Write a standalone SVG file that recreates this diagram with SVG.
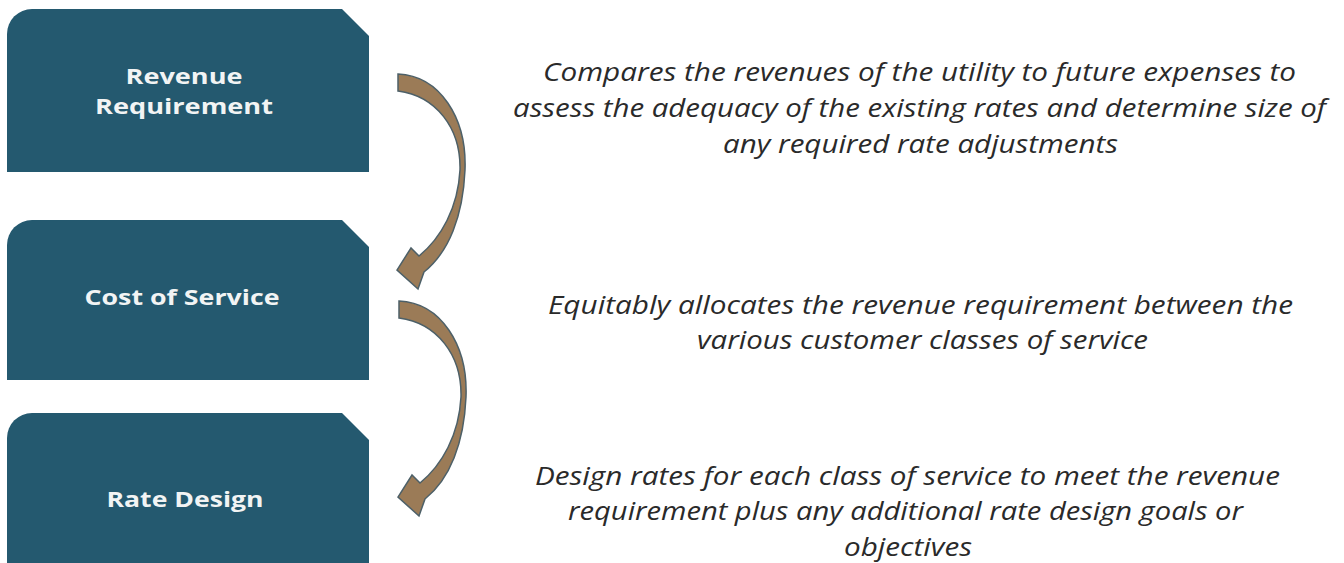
<svg xmlns="http://www.w3.org/2000/svg" width="1344" height="563" viewBox="0 0 1344 563">
  <style>
    .box { fill: #24596f; }
    .label { font-family: "Open Sans", "Liberation Sans", sans-serif; font-weight: bold; font-size: 21px; fill: #f2f4f4; text-anchor: middle; }
    .desc { font-family: "Open Sans", "Liberation Sans", sans-serif; font-style: italic; font-size: 26px; fill: #2a2a2a; text-anchor: middle; }
    .arrow { fill: #9b7b57; stroke: #4d6068; stroke-width: 1.5; stroke-linejoin: miter; }
  </style>
  <defs>
    <!-- curved arrow sweeping out to the right and back, head pointing left -->
    <path id="curved-arrow" d="M398,74 C440,76 467,118 465,170 C463,216 449,252 424,272 L418,289 L397,270 L411,248 L419,256 C441,238 458,208 460,170 C461,128 436,96 398,91 Z"/>
  </defs>
  <rect width="1344" height="563" fill="#ffffff"/>

  <g id="node-revenue-requirement">
    <path class="box" d="M7,172 V34 A25,25 0 0 1 32,9 H342 L369,36 V172 Z"/>
    <text class="label" x="184" y="84" textLength="117" lengthAdjust="spacingAndGlyphs">Revenue</text>
    <text class="label" x="184" y="114" textLength="178" lengthAdjust="spacingAndGlyphs">Requirement</text>
  </g>

  <g id="node-cost-of-service">
    <path class="box" d="M7,380 V245 A25,25 0 0 1 32,220 H342 L369,247 V380 Z"/>
    <text class="label" x="182" y="305" textLength="195" lengthAdjust="spacingAndGlyphs">Cost of Service</text>
  </g>

  <g id="node-rate-design">
    <path class="box" d="M7,563 V438 A25,25 0 0 1 32,413 H342 L369,440 V563 Z"/>
    <text class="label" x="185" y="507" textLength="157" lengthAdjust="spacingAndGlyphs">Rate Design</text>
  </g>

  <g id="connectors">
    <use href="#curved-arrow" class="arrow"/>
    <use href="#curved-arrow" class="arrow" transform="translate(1,227)"/>
  </g>

  <g id="desc-revenue-requirement">
    <text class="desc" x="919.5" y="81" textLength="753" lengthAdjust="spacingAndGlyphs">Compares the revenues of the utility to future expenses to</text>
    <text class="desc" x="919.5" y="117" textLength="813" lengthAdjust="spacingAndGlyphs">assess the adequacy of the existing rates and determine size of</text>
    <text class="desc" x="920.5" y="153" textLength="395" lengthAdjust="spacingAndGlyphs">any required rate adjustments</text>
  </g>

  <g id="desc-cost-of-service">
    <text class="desc" x="920.5" y="314" textLength="745" lengthAdjust="spacingAndGlyphs">Equitably allocates the revenue requirement between the</text>
    <text class="desc" x="922.5" y="349" textLength="451" lengthAdjust="spacingAndGlyphs">various customer classes of service</text>
  </g>

  <g id="desc-rate-design">
    <text class="desc" x="907.5" y="485" textLength="745" lengthAdjust="spacingAndGlyphs">Design rates for each class of service to meet the revenue</text>
    <text class="desc" x="905.5" y="520" textLength="675" lengthAdjust="spacingAndGlyphs">requirement plus any additional rate design goals or</text>
    <text class="desc" x="908" y="556" textLength="128" lengthAdjust="spacingAndGlyphs">objectives</text>
  </g>
</svg>
